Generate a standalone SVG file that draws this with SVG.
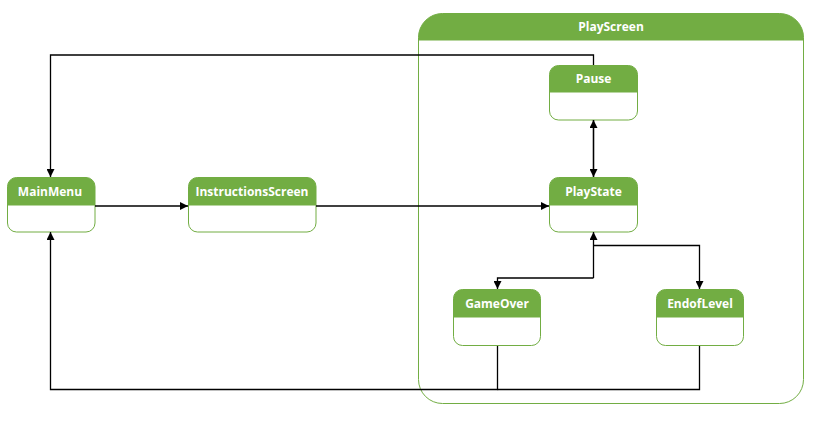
<svg xmlns="http://www.w3.org/2000/svg" width="815" height="422" viewBox="0 0 815 422">
<defs>
<style>
.hd{fill:#72AD43}
.bd{fill:#fff;stroke:#72AD43;stroke-width:1}
.t{font-family:"Open Sans","Noto Sans",sans-serif;font-weight:bold;font-size:12px;fill:#fff;text-anchor:middle}
.c{fill:none;stroke:#000;stroke-width:1.3}
</style>
<marker id="a" viewBox="0 0 10 10" refX="10" refY="5" markerWidth="8" markerHeight="8" orient="auto" markerUnits="userSpaceOnUse">
<path d="M0,0 L10,5 L0,10 z" fill="#000"/>
</marker>
</defs>
<g id="PlayScreen">
<rect class="bd" x="418.5" y="13.5" width="385" height="390" rx="24"/>
<path class="hd" d="M418.5,40.5 V37.5 A24,24 0 0 1 442.5,13.5 H779.5 A24,24 0 0 1 803.5,37.5 V40.5 Z"/>
<text class="t" x="611" y="31">PlayScreen</text>
</g>
<g id="MainMenu">
<rect class="bd" x="7.5" y="177.5" width="87.5" height="54.5" rx="9"/>
<path class="hd" d="M7.5,205.5 V186.5 A9,9 0 0 1 16.5,177.5 H86 A9,9 0 0 1 95,186.5 V205.5 Z"/>
<text class="t" x="50" y="196">MainMenu</text>
</g>
<g id="InstructionsScreen">
<rect class="bd" x="188.5" y="177.5" width="127.5" height="54.5" rx="9"/>
<path class="hd" d="M188.5,205.5 V186.5 A9,9 0 0 1 197.5,177.5 H307 A9,9 0 0 1 316,186.5 V205.5 Z"/>
<text class="t" x="252" y="196">InstructionsScreen</text>
</g>
<g id="PlayState">
<rect class="bd" x="549.5" y="177.5" width="88" height="54.5" rx="9"/>
<path class="hd" d="M549.5,205.5 V186.5 A9,9 0 0 1 558.5,177.5 H628.5 A9,9 0 0 1 637.5,186.5 V205.5 Z"/>
<text class="t" x="593.5" y="196">PlayState</text>
</g>
<g id="Pause">
<rect class="bd" x="549.5" y="65.5" width="88" height="54.5" rx="9"/>
<path class="hd" d="M549.5,92.5 V74.5 A9,9 0 0 1 558.5,65.5 H628.5 A9,9 0 0 1 637.5,74.5 V92.5 Z"/>
<text class="t" x="593.5" y="83">Pause</text>
</g>
<g id="GameOver">
<rect class="bd" x="453.5" y="289.5" width="87" height="56" rx="9"/>
<path class="hd" d="M453.5,317.5 V298.5 A9,9 0 0 1 462.5,289.5 H531.5 A9,9 0 0 1 540.5,298.5 V317.5 Z"/>
<text class="t" x="497" y="308">GameOver</text>
</g>
<g id="EndofLevel">
<rect class="bd" x="656.5" y="289.5" width="87" height="56" rx="9"/>
<path class="hd" d="M656.5,317.5 V298.5 A9,9 0 0 1 665.5,289.5 H734.5 A9,9 0 0 1 743.5,298.5 V317.5 Z"/>
<text class="t" x="700" y="308">EndofLevel</text>
</g>
<g id="connectors">
<path class="c" d="M95,206 H188" marker-end="url(#a)"/>
<path class="c" d="M316,206 H549" marker-end="url(#a)"/>
<path class="c" d="M593.5,177 V120" marker-end="url(#a)"/>
<path class="c" d="M593.5,120 V177" marker-end="url(#a)"/>
<path class="c" d="M593.5,278 V232" marker-end="url(#a)"/>
<path class="c" d="M593.5,278 H497.5 V289" marker-end="url(#a)"/>
<path class="c" d="M593.5,245.5 H699.5 V289" marker-end="url(#a)"/>
<path class="c" d="M497.5,346 V389.5 H50.5 V232" marker-end="url(#a)"/>
<path class="c" d="M699.5,346 V389.5 H497.5"/>
<path class="c" d="M593.5,65 V55 H50.5 V177" marker-end="url(#a)"/>
</g>
</svg>
